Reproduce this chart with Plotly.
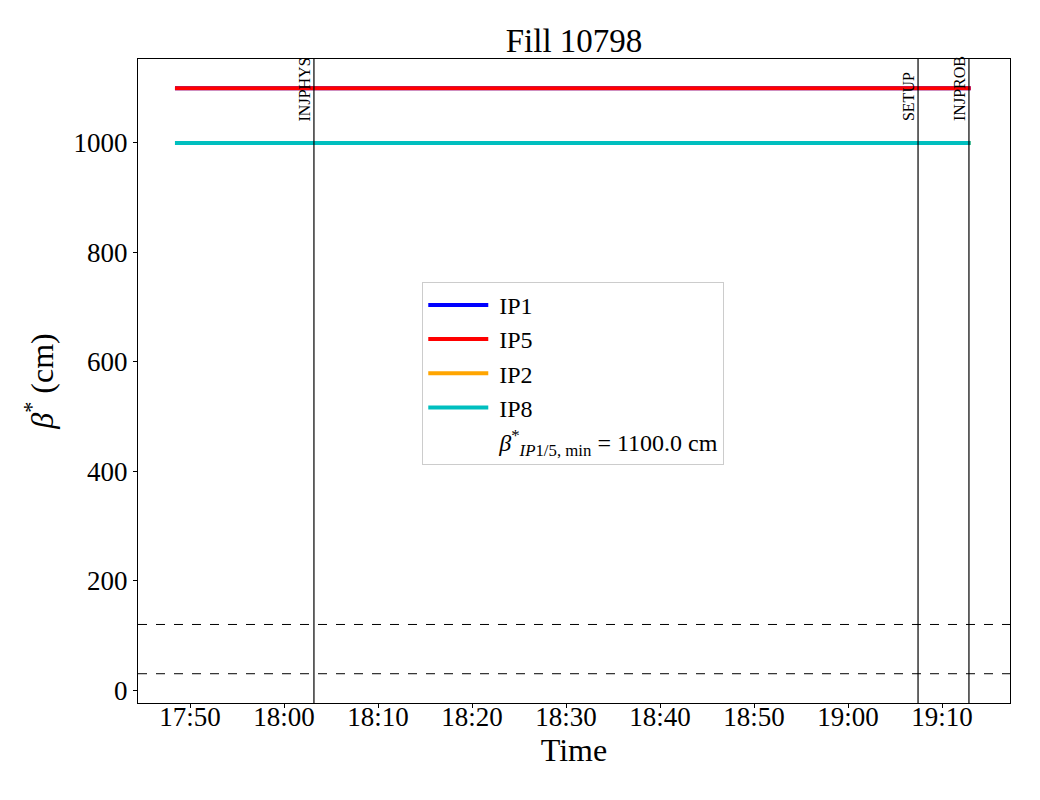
import plotly.graph_objects as go

DAY = "2025-06-18 "
times = [DAY + "17:48:24", DAY + "19:13:03"]
ip1 = [1100, 1100]
ip5 = [1100, 1100]
ip2 = [1000, 1000]
ip8 = [1000, 1000]

series_names = ["IP1", "IP5", "IP2", "IP8"]
series_values = [ip1, ip5, ip2, ip8]
series_colors = ["#0000ff", "#ff0000", "#ffa500", "#00bfbf"]

event_times = [DAY + "18:03:11", DAY + "19:07:27", DAY + "19:12:52"]
event_labels = ["INJPHYS", "SETUP", "INJPROB"]

ref_levels = [120, 30]

x_range = [DAY + "17:44:28", DAY + "19:17:14"]
y_range = [-23.5, 1153.5]
tick_text = ["17:50", "18:00", "18:10", "18:20", "18:30", "18:40", "18:50", "19:00", "19:10"]
tick_vals = [DAY + t for t in tick_text]

FONT = "Liberation Serif"
PAD = "\u00a0"

fig = go.Figure()
for i, (name, vals, col) in enumerate(zip(series_names, series_values, series_colors)):
    fig.add_trace(go.Scatter(x=times, y=vals, mode="lines", name=PAD + name,
                             line=dict(color=col, width=4), legendgroup=f"g{i}"))

fig.add_trace(go.Scatter(x=[None], y=[None], mode="lines",
                         name=PAD + "<i>β</i><sup>*</sup><sub><i>IP</i>1/5, min</sub> = 1100.0 cm",
                         line=dict(color="rgba(0,0,0,0)", width=0), legendgroup="g4"))

for lvl in ref_levels:
    fig.add_hline(y=lvl, line=dict(color="black", width=1, dash="dash"))

for t, lab in zip(event_times, event_labels):
    fig.add_vline(x=t, line=dict(color="black", width=1.2))
    fig.add_annotation(x=t, y=0.9006, xref="x", yref="paper", text=lab,
                       textangle=-90, xanchor="right", yanchor="bottom",
                       showarrow=False, font=dict(family=FONT, size=16, color="black"),
                       xshift=1)

fig.update_layout(
    width=1040, height=800,
    margin=dict(l=130, r=38, t=51, b=105),
    paper_bgcolor="white", plot_bgcolor="white",
    font=dict(family=FONT, color="black"),
    title=dict(text="Fill 10798", x=0.5, xanchor="center", y=1 - 32 / 800, yanchor="middle",
               xref="paper", font=dict(family=FONT, size=33, color="black")),
    legend=dict(x=0.326, y=0.654, xanchor="left", yanchor="top",
                bordercolor="#cccccc", borderwidth=1, bgcolor="rgba(255,255,255,0.8)",
                font=dict(family=FONT, size=24, color="black"),
                traceorder="grouped", tracegroupgap=0, itemwidth=60),
    showlegend=True,
)
fig.update_xaxes(range=x_range, type="date", tickvals=tick_vals, ticktext=tick_text,
                 showgrid=False, zeroline=False, showline=True, linecolor="black", linewidth=1,
                 mirror=True, ticks="outside", ticklen=4, tickcolor="black",
                 ticklabelstandoff=-14,
                 tickfont=dict(family=FONT, size=27, color="black"),
                 title=dict(text="Time", font=dict(family=FONT, size=32, color="black"), standoff=6))
fig.update_yaxes(range=y_range, tickvals=[0, 200, 400, 600, 800, 1000],
                 showgrid=False, zeroline=False, showline=True, linecolor="black", linewidth=1,
                 mirror=True, ticks="outside", ticklen=4, tickcolor="black",
                 tickfont=dict(family=FONT, size=27, color="black"),
                 title=dict(text="<i>β</i><sup>*</sup> (cm)", font=dict(family=FONT, size=32, color="black"), standoff=10))

fig.write_html("out.html")
